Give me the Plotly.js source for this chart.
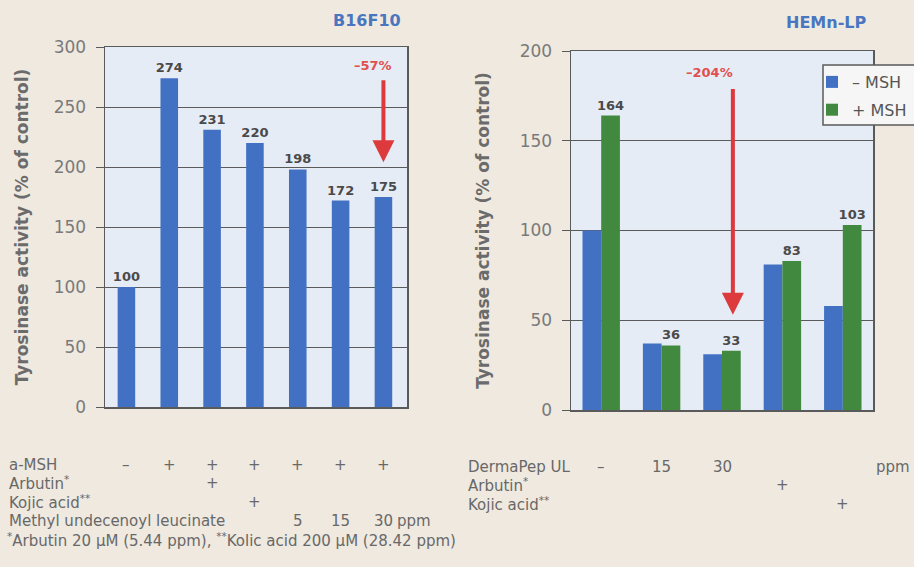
<!DOCTYPE html>
<html>
<head>
<meta charset="utf-8">
<script src="https://cdn.plot.ly/plotly-3.0.1.min.js"></script>
<style>
  html, body { margin: 0; padding: 0; background: #efe9e0; }
  #chart { width: 914px; height: 567px; }
</style>
</head>
<body>
<div id="chart"></div>
<script>
// ---------- data ----------
const leftCategories = ['Control', 'a-MSH', 'Arbutin', 'Kojic acid', '5 ppm', '15 ppm', '30 ppm'];
const leftValues = [100, 274, 231, 220, 198, 172, 175];
const leftArrowValues = [274, 204];
const leftArrowLabel = '–57%';

const rightCategories = ['Control', '15 ppm', '30 ppm', 'Arbutin', 'Kojic acid'];
const minusMSH = [100, 37, 31, 81, 58];
const plusMSH = [164, 36, 33, 83, 103];
const rightArrowValues = [180, 53];
const rightArrowLabel = '–204%';
const seriesNames = ['– MSH', '+ MSH'];

const leftTitle = 'B16F10';
const rightTitle = 'HEMn-LP';
const yTitle = 'Tyrosinase activity (% of control)';

const leftRowLabels = ['a-MSH', 'Arbutin<sup>*</sup>', 'Kojic acid<sup>**</sup>', 'Methyl undecenoyl leucinate'];
const leftRowMarks = [
  ['–', '+', '+', '+', '+', '+', '+'],
  ['', '', '+', '', '', '', ''],
  ['', '', '', '+', '', '', ''],
  ['', '', '', '', '5', '15', '30']
];
const leftUnit = 'ppm';
const rightRowLabels = ['DermaPep UL', 'Arbutin<sup>*</sup>', 'Kojic acid<sup>**</sup>'];
const rightRowMarks = [
  ['–', '15', '30', '', ''],
  ['', '', '', '+', ''],
  ['', '', '', '', '+']
];
const rightUnit = 'ppm';
const footnote = '<sup>*</sup>Arbutin 20 μM (5.44 ppm), <sup>**</sup>Kolic acid 200 μM (28.42 ppm)';

// ---------- styling helpers ----------
const W = 914, H = 567;
const px = v => v / W;
const py = v => 1 - v / H;
const BLUE = '#4271c4', GREEN = '#40893f', RED = '#dc3a3c';
const FRAME = '#5a5a5a';
const FONT = 'DejaVu Sans, Liberation Sans, sans-serif';

const traces = [
  {
    type: 'bar', x: leftCategories, y: leftValues, xaxis: 'x', yaxis: 'y',
    marker: { color: BLUE }, width: 0.41, showlegend: false,
    text: leftValues.map(v => '<b>' + v + '</b>'), textposition: 'outside', constraintext: 'none',
    textfont: { family: FONT, size: 13, color: '#4a4a4a' }, cliponaxis: false,
    hoverinfo: 'x+y'
  },
  {
    type: 'bar', name: seriesNames[0], legendgroup: 'a', x: rightCategories, y: minusMSH, xaxis: 'x2', yaxis: 'y2',
    marker: { color: BLUE }, width: 0.31, offset: -0.31, hoverinfo: 'x+y'
  },
  {
    type: 'bar', name: seriesNames[1], legendgroup: 'b', x: rightCategories, y: plusMSH, xaxis: 'x2', yaxis: 'y2',
    marker: { color: GREEN }, width: 0.31, offset: 0,
    text: plusMSH.map(v => '<b>' + v + '</b>'), textposition: 'outside', constraintext: 'none',
    textfont: { family: FONT, size: 13, color: '#4a4a4a' }, cliponaxis: false,
    hoverinfo: 'x+y'
  }
];

const yAxisCommon = {
  dtick: 50, showgrid: true, gridcolor: FRAME, gridwidth: 1,
  showline: true, mirror: true, linecolor: FRAME, linewidth: 1.5,
  ticks: 'outside', ticklen: 8, tickcolor: FRAME, tickwidth: 1,
  ticklabelstandoff: 6,
  tickfont: { family: FONT, size: 17, color: '#7a7a7a' },
  zeroline: false, fixedrange: true
};
const xAxisCommon = {
  type: 'category',
  showticklabels: false, ticks: '', showgrid: false,
  showline: true, mirror: true, linecolor: FRAME, linewidth: 1.5,
  zeroline: false, fixedrange: true
};

const titleFont = { family: FONT, size: 17, color: '#6b6b6b' };

const layout = {
  width: W, height: H,
  margin: { l: 0, r: 0, t: 0, b: 0, autoexpand: false },
  paper_bgcolor: '#efe9e0',
  plot_bgcolor: '#e6ecf5',
  barmode: 'overlay',
  xaxis: Object.assign({}, xAxisCommon, { domain: [px(105), px(407)], anchor: 'y', range: [-0.5, 6.55] }),
  yaxis: Object.assign({}, yAxisCommon, {
    domain: [py(407), py(47)], anchor: 'x', range: [0, 300],
    title: { text: '<b>' + yTitle + '</b>', font: titleFont, standoff: 20 }
  }),
  xaxis2: Object.assign({}, xAxisCommon, { domain: [px(571), px(873)], anchor: 'y2', range: [-0.5, 4.5] }),
  yaxis2: Object.assign({}, yAxisCommon, {
    domain: [py(410), py(51)], anchor: 'x2', range: [0, 200],
    title: { text: '<b>' + yTitle + '</b>', font: titleFont, standoff: 25 }
  }),
  legend: {
    x: px(812), y: py(65), xanchor: 'left', yanchor: 'top',
    bgcolor: 'rgba(0,0,0,0)', borderwidth: 0,
    font: { family: FONT, size: 16, color: '#555' },
    itemwidth: 30, tracegroupgap: 4, traceorder: 'grouped'
  },
  shapes: [
    { type: 'rect', xref: 'paper', yref: 'paper', x0: px(823), x1: px(930), y0: py(125), y1: py(65),
      fillcolor: '#f6f6f6', line: { color: FRAME, width: 1.5 }, layer: 'above' }
  ],
  annotations: [],
  showlegend: true
};

const ann = layout.annotations;
// panel titles
ann.push({ text: '<b>' + leftTitle + '</b>', xref: 'paper', yref: 'paper', x: px(367), y: py(20),
  xanchor: 'center', yanchor: 'middle',
  showarrow: false, font: { family: FONT, size: 16, color: '#4a76c0' } });
ann.push({ text: '<b>' + rightTitle + '</b>', xref: 'paper', yref: 'paper', x: px(826), y: py(22),
  xanchor: 'center', yanchor: 'middle',
  showarrow: false, font: { family: FONT, size: 16, color: '#4a76c0' } });

// arrows
ann.push({ xref: 'x', yref: 'y', x: 6.0, y: leftArrowValues[1], axref: 'x', ayref: 'y',
  ax: 6.0, ay: leftArrowValues[0], showarrow: true, arrowhead: 2, arrowsize: 1.1,
  arrowwidth: 4, arrowcolor: RED, text: ' ', font: { size: 1 } });
ann.push({ xref: 'x', yref: 'y', x: 5.75, y: 285, text: '<b>' + leftArrowLabel + '</b>', showarrow: false,
  font: { family: FONT, size: 13, color: '#e0504f' } });
ann.push({ xref: 'x2', yref: 'y2', x: 2.18, y: rightArrowValues[1], axref: 'x2', ayref: 'y2',
  ax: 2.18, ay: rightArrowValues[0], showarrow: true, arrowhead: 2, arrowsize: 1.1,
  arrowwidth: 4, arrowcolor: RED, text: ' ', font: { size: 1 } });
ann.push({ xref: 'x2', yref: 'y2', x: 1.8, y: 188, text: '<b>' + rightArrowLabel + '</b>', showarrow: false,
  font: { family: FONT, size: 13, color: '#e0504f' } });

// tables
const tableFont = { family: FONT, size: 15, color: '#686868' };
const leftRowY = [465, 483, 502, 521];
leftRowLabels.forEach((lab, i) => {
  ann.push({ text: lab, xref: 'paper', yref: 'paper', x: px(7), y: py(leftRowY[i]),
    xanchor: 'left', yanchor: 'middle', showarrow: false, font: tableFont });
  leftRowMarks[i].forEach((m, j) => {
    if (m) ann.push({ text: m, xref: 'x', yref: 'paper', x: j, y: py(leftRowY[i]),
      xanchor: 'center', yanchor: 'middle', showarrow: false, font: tableFont });
  });
});
ann.push({ text: leftUnit, xref: 'paper', yref: 'paper', x: px(414), y: py(leftRowY[3]),
  xanchor: 'center', yanchor: 'middle', showarrow: false, font: tableFont });
ann.push({ text: footnote, xref: 'paper', yref: 'paper', x: px(5), y: py(540),
  xanchor: 'left', yanchor: 'middle', showarrow: false, font: tableFont });

const rightRowY = [467, 485, 504];
rightRowLabels.forEach((lab, i) => {
  ann.push({ text: lab, xref: 'paper', yref: 'paper', x: px(466), y: py(rightRowY[i]),
    xanchor: 'left', yanchor: 'middle', showarrow: false, font: tableFont });
  rightRowMarks[i].forEach((m, j) => {
    if (m) ann.push({ text: m, xref: 'x2', yref: 'paper', x: j, y: py(rightRowY[i]),
      xanchor: 'center', yanchor: 'middle', showarrow: false, font: tableFont });
  });
});
ann.push({ text: rightUnit, xref: 'paper', yref: 'paper', x: px(893), y: py(rightRowY[0]),
  xanchor: 'center', yanchor: 'middle', showarrow: false, font: tableFont });

Plotly.newPlot('chart', traces, layout, { displayModeBar: false, staticPlot: true });
</script>
</body>
</html>
